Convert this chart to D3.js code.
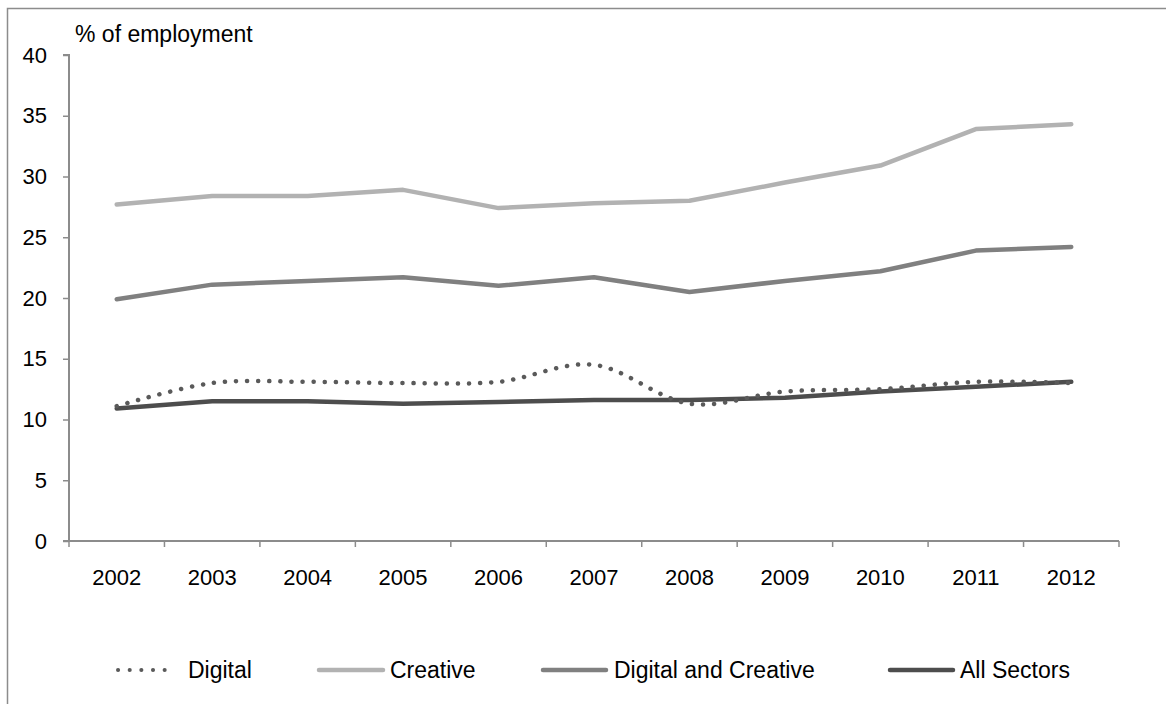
<!DOCTYPE html>
<html>
<head>
<meta charset="utf-8">
<script src="https://cdn.jsdelivr.net/npm/d3@7"></script>
<style>
  html, body { margin: 0; padding: 0; background: #fff; }
  svg { display: block; }
  text { font-family: "Liberation Sans", Arial, sans-serif; fill: #000; }
</style>
</head>
<body>
<div id="chart"></div>
<script>
const years = ["2002","2003","2004","2005","2006","2007","2008","2009","2010","2011","2012"];
const digital = [11.1, 13.0, 13.1, 13.0, 13.1, 14.5, 11.3, 12.3, 12.5, 13.1, 13.0];
const creative = [27.7, 28.4, 28.4, 28.9, 27.4, 27.8, 28.0, 29.5, 30.9, 33.9, 34.3];
const digitalCreative = [19.9, 21.1, 21.4, 21.7, 21.0, 21.7, 20.5, 21.4, 22.2, 23.9, 24.2];
const allSectors = [10.9, 11.5, 11.5, 11.3, 11.45, 11.6, 11.6, 11.8, 12.3, 12.7, 13.1];
const yTicks = [0, 5, 10, 15, 20, 25, 30, 35, 40];
const seriesNames = ["Digital", "Creative", "Digital and Creative", "All Sectors"];
const yTitle = "% of employment";

const W = 1166, H = 704;
const svg = d3.select("#chart").append("svg").attr("width", W).attr("height", H);

// outer frame (cropped at right/bottom)
svg.append("rect").attr("x", 7.5).attr("y", 8.5).attr("width", W + 20).attr("height", H + 20)
  .attr("fill", "none").attr("stroke", "#8c8c8c").attr("stroke-width", 1.5);

const x0 = 69, x1 = 1119, yTop = 55, yBottom = 541;
const x = d3.scaleBand().domain(years).range([x0, x1]);
const y = d3.scaleLinear().domain([0, 40]).range([yBottom, yTop]);
const cx = d => x(d) + x.bandwidth() / 2;

// Y axis
const yAxis = svg.append("g").attr("transform", `translate(${x0},0)`)
  .call(d3.axisLeft(y).tickValues(yTicks).tickSize(6).tickPadding(16).tickFormat(d3.format("d")));
yAxis.select(".domain").attr("stroke", "#8c8c8c").attr("stroke-width", 2).attr("d", `M-6,${yTop}H0V${yBottom}`);
yAxis.selectAll(".tick line").attr("stroke", "#8c8c8c").attr("stroke-width", 1.5);
yAxis.selectAll(".tick text").attr("font-size", 22).attr("font-family", "Liberation Sans, Arial, sans-serif").attr("fill", "#000");

// X axis with boundary ticks
const xAxisG = svg.append("g").attr("transform", `translate(0,${yBottom})`);
xAxisG.append("line").attr("x1", x0 - 6).attr("x2", x1).attr("y1", 0).attr("y2", 0)
  .attr("stroke", "#8c8c8c").attr("stroke-width", 2);
const bounds = years.map(d => x(d)).concat([x1]);
xAxisG.selectAll("line.tk").data(bounds).join("line").attr("class", "tk")
  .attr("x1", d => d).attr("x2", d => d).attr("y1", 0).attr("y2", 6)
  .attr("stroke", "#8c8c8c").attr("stroke-width", 1.5);
xAxisG.selectAll("text").data(years).join("text")
  .attr("x", d => cx(d)).attr("y", 44).attr("text-anchor", "middle").attr("font-size", 22).text(d => d);

// title
svg.append("text").attr("x", 75).attr("y", 42).attr("font-size", 23).text(yTitle);

const series = [
  { name: seriesNames[0], values: digital, color: "#5a5a5a", dash: "0.1 11", curve: d3.curveCatmullRom.alpha(0), width: 4.5 },
  { name: seriesNames[1], values: creative, color: "#b2b2b2", dash: null, curve: d3.curveLinear, width: 4.5 },
  { name: seriesNames[2], values: digitalCreative, color: "#808080", dash: null, curve: d3.curveLinear, width: 4.5 },
  { name: seriesNames[3], values: allSectors, color: "#4d4d4d", dash: null, curve: d3.curveLinear, width: 4.5 }
];

const drawOrder = [series[1], series[2], series[3], series[0]];
drawOrder.forEach(s => {
  const line = d3.line().x((d, i) => cx(years[i])).y(d => y(d)).curve(s.curve);
  svg.append("path").datum(s.values).attr("d", line)
    .attr("fill", "none").attr("stroke", s.color).attr("stroke-width", s.width)
    .attr("stroke-linecap", "round").attr("stroke-linejoin", "round")
    .attr("stroke-dasharray", s.dash);
});

// legend
const legendY = 670;
const legendItems = [
  { s: series[0], lx: 118, len: 58, tx: 188 },
  { s: series[1], lx: 319, len: 64, tx: 390 },
  { s: series[2], lx: 543, len: 63, tx: 614 },
  { s: series[3], lx: 890, len: 63, tx: 960 }
];
legendItems.forEach(it => {
  svg.append("line").attr("x1", it.lx).attr("x2", it.lx + it.len).attr("y1", legendY).attr("y2", legendY)
    .attr("stroke", it.s.color).attr("stroke-width", it.s.dash ? 4 : 4.5)
    .attr("stroke-linecap", "round").attr("stroke-dasharray", it.s.dash ? "0.1 11.55" : null);
  svg.append("text").attr("x", it.tx).attr("y", legendY + 8).attr("font-size", 23).text(it.s.name);
});
</script>
</body>
</html>
